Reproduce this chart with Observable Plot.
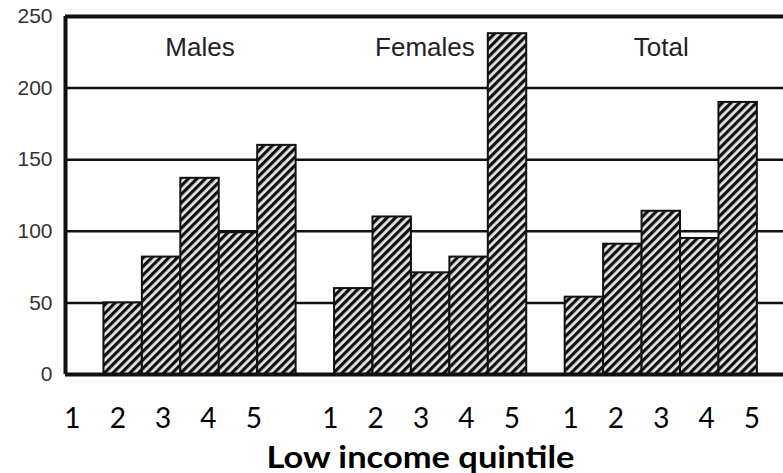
<!DOCTYPE html>
<html>
<head>
<meta charset="utf-8">
<script src="https://cdn.jsdelivr.net/npm/d3@7"></script>
<script src="https://cdn.jsdelivr.net/npm/@observablehq/plot@0.6"></script>
<style>
  html, body { margin: 0; padding: 0; background: #fff; }
  #chart svg { display: block; }
</style>
</head>
<body>
<div id="chart"></div>
<script>
// ---- data ----
const groups = ["Males", "Females", "Total"];
const quintiles = [1, 2, 3, 4, 5];
const males = [50, 82, 137, 99, 160];
const females = [60, 110, 71, 82, 238];
const total = [54, 91, 114, 95, 190];
const yTicks = [0, 50, 100, 150, 200, 250];
const axisTitle = "Low income quintile";

const series = [males, females, total];
const bars = [];
groups.forEach((g, gi) => {
  quintiles.forEach((q, qi) => {
    bars.push({group: g, gi, q, value: series[gi][qi], slot: gi * 6 + q});
  });
});

// layout helpers (slot units on the x scale)
const labelStart = [0.18, 0.89, 1.14];
const labelStep = 1.18;
const qLabels = [];
groups.forEach((g, gi) => quintiles.forEach((q, qi) => {
  qLabels.push({text: String(q), x: gi * 6 + labelStart[gi] + qi * labelStep});
}));
const groupLabels = groups.map((g, gi) => ({text: g, x: gi * 6 + 3.5 + (gi === 1 ? -0.15 : 0)}));

const chart = Plot.plot({
  width: 783,
  height: 473,
  marginLeft: 65,
  marginRight: 0,
  marginTop: 16,
  marginBottom: 99,
  style: {fontFamily: "'Liberation Sans', Arial, sans-serif", background: "#fff", overflow: "visible"},
  x: {type: "linear", domain: [0, 18.68], axis: null},
  y: {domain: [0, 250], axis: null},
  marks: [
    Plot.ruleY([50, 100, 150, 200], {stroke: "#111", strokeWidth: 2.5}),
    Plot.rect(bars, {
      x1: d => d.slot,
      x2: d => d.slot + 1,
      y1: 0,
      y2: "value",
      fill: "url(#hatch)",
      stroke: "#111",
      strokeWidth: 2,
      inset: 0
    }),
    Plot.ruleY([0, 250], {stroke: "#111", strokeWidth: 4}),
    Plot.ruleX([0], {y1: 0, y2: 250, stroke: "#111", strokeWidth: 4}),
    Plot.axisY({ticks: yTicks, tickSize: 0, tickPadding: 13, fontSize: 21, fill: "#333", label: null,
      tickFormat: d => String(d)}),
    Plot.text(groupLabels, {x: "x", y: 228, text: "text", fontSize: 26, fill: "#222", lineAnchor: "middle"}),
    Plot.text(qLabels, {x: "x", frameAnchor: "bottom", lineAnchor: "bottom", dy: 53, text: "text",
      fontSize: 28, fill: "#000", fontFamily: "Lato, 'Open Sans', sans-serif"}),
    Plot.text([axisTitle], {frameAnchor: "bottom", lineAnchor: "bottom", dy: 93, dx: -4, text: d => d,
      fontSize: 31, fontWeight: "bold", fill: "#000", fontFamily: "Lato, 'Open Sans', sans-serif",
      className: "axis-title"})
  ]
});

// hatch pattern definition
const ns = "http://www.w3.org/2000/svg";
const defs = document.createElementNS(ns, "defs");
const pat = document.createElementNS(ns, "pattern");
pat.setAttribute("id", "hatch");
pat.setAttribute("patternUnits", "userSpaceOnUse");
pat.setAttribute("width", "6");
pat.setAttribute("height", "6");
pat.setAttribute("patternTransform", "rotate(45)");
const bg = document.createElementNS(ns, "rect");
bg.setAttribute("width", "6"); bg.setAttribute("height", "6"); bg.setAttribute("fill", "#e6e6e6");
const ln = document.createElementNS(ns, "rect");
ln.setAttribute("x", "0"); ln.setAttribute("width", "3.2"); ln.setAttribute("height", "6"); ln.setAttribute("fill", "#111");
pat.appendChild(bg); pat.appendChild(ln);
defs.appendChild(pat);
chart.insertBefore(defs, chart.firstChild);

// stretch the axis title to the reference's width
chart.querySelectorAll(".axis-title text").forEach(t => {
  t.setAttribute("textLength", "308");
  t.setAttribute("lengthAdjust", "spacingAndGlyphs");
});

document.getElementById("chart").appendChild(chart);
</script>
</body>
</html>
